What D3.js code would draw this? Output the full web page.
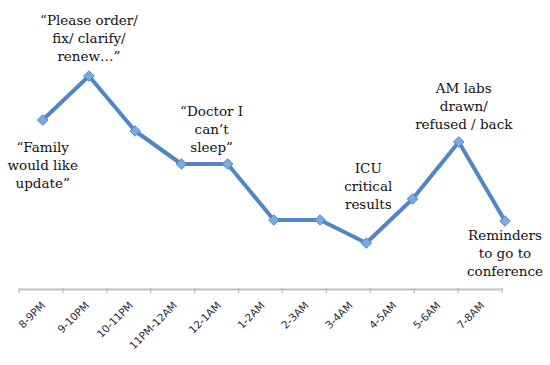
<!DOCTYPE html>
<html>
<head>
<meta charset="utf-8">
<script src="https://cdn.jsdelivr.net/npm/d3@7"></script>
<style>
  body { margin: 0; background: #fff; }
  svg { display: block; }
</style>
</head>
<body>
<svg id="chart" width="550" height="365"></svg>
<script>
// Intervalos horários (eixo X) e intensidade relativa de chamadas em cada um
const slots = ["8-9PM", "9-10PM", "10-11PM", "11PM-12AM", "12-1AM", "1-2AM",
  "2-3AM", "3-4AM", "4-5AM", "5-6AM", "7-8AM"];
const calls = [8.45, 10.65, 7.9, 6.25, 6.25, 3.45, 3.45, 2.3, 4.5, 7.35, 3.4];

// Anotações: índice do ponto, linhas de texto, deslocamento do bloco (dx, dy do topo)
const notes = [
  { i: 0, lines: ["\u201cFamily", "would like", "update\u201d"], dx: 0, dy: 20 },
  { i: 1, lines: ["\u201cPlease order/", "fix/ clarify/", "renew\u2026\u201d"], dx: 0, dy: -63 },
  { i: 4, lines: ["\u201cDoctor I", "can\u2019t", "sleep\u201d"], dx: -16, dy: -60 },
  { i: 7, lines: ["ICU", "critical", "results"], dx: 2, dy: -82 },
  { i: 9, lines: ["AM labs", "drawn/", "refused / back"], dx: 5, dy: -61 },
  { i: 10, lines: ["Reminders", "to go to", "conference"], dx: 0, dy: 7 },
];

const svg = d3.select("#chart");

// Eixo categórico (rótulos) e escala dos pontos — no original a linha não
// fica exatamente alinhada com os ticks, por isso duas escalas
const xAxisScale = d3.scaleBand().domain(slots).range([19, 502]);
const xPoint = d3.scalePoint().domain(slots).range([42.7, 505]);
const yScale = d3.scaleLinear().domain([0, 12]).range([289, 49]);

const axis = svg.append("g").attr("transform", "translate(0,289)")
  .call(d3.axisBottom(xAxisScale).tickSize(0).tickFormat(""));
axis.select(".domain").attr("stroke", "#c0c0c0").attr("stroke-width", 2);

// Ticks entre categorias
svg.append("g").selectAll("line")
  .data(slots.concat(["end"]))
  .join("line")
  .attr("x1", (d, i) => i < slots.length ? xAxisScale(d) : xAxisScale.range()[1])
  .attr("x2", (d, i) => i < slots.length ? xAxisScale(d) : xAxisScale.range()[1])
  .attr("y1", 288).attr("y2", 293)
  .attr("stroke", "#c0c0c0").attr("stroke-width", 1.5);

// Rótulos rotacionados a -45°
svg.append("g").selectAll("text")
  .data(slots)
  .join("text")
  .attr("transform", (d) => `translate(${xAxisScale(d) + xAxisScale.bandwidth() / 2 + 5},${306}) rotate(-45)`)
  .attr("text-anchor", "end")
  .attr("font-family", "DejaVu Sans, Verdana, sans-serif")
  .attr("font-size", "10.5px")
  .attr("fill", "#2a2a3a")
  .text((d) => d);

// Linha principal
const line = d3.line().x((d, i) => xPoint(slots[i])).y((d) => yScale(d));
svg.append("path")
  .datum(calls)
  .attr("d", line)
  .attr("fill", "none")
  .attr("stroke", "#4f86c6")
  .attr("stroke-width", 4)
  .attr("stroke-linejoin", "round");

// Marcadores em losango
svg.append("g").selectAll("path")
  .data(calls)
  .join("path")
  .attr("transform", (d, i) => `translate(${xPoint(slots[i])},${yScale(d)})`)
  .attr("d", d3.symbol(d3.symbolDiamond2, 70))
  .attr("fill", "#7aaae2")
  .attr("stroke", "#4f86c6")
  .attr("stroke-width", 1);

// Anotações em fonte serifada
notes.forEach((n) => {
  const x = xPoint(slots[n.i]) + n.dx;
  const y0 = yScale(calls[n.i]) + n.dy;
  const t = svg.append("text")
    .attr("text-anchor", "middle")
    .attr("font-family", "DejaVu Serif, serif")
    .attr("font-size", "13.5px")
    .attr("fill", "#111");
  n.lines.forEach((l, k) => {
    t.append("tspan").attr("x", x).attr("y", y0 + 12 + k * 18).text(l);
  });
});
</script>
</body>
</html>
